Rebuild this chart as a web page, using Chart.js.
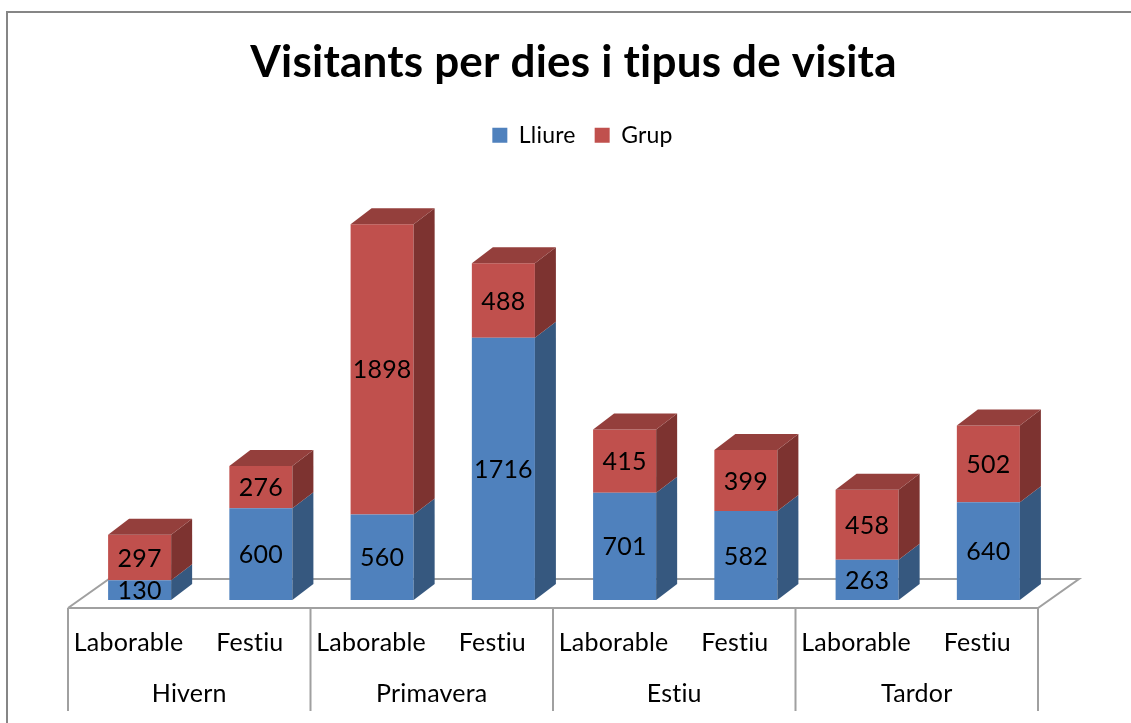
<!DOCTYPE html>
<html>
<head>
<meta charset="utf-8">
<script src="https://cdn.jsdelivr.net/npm/chart.js@4/dist/chart.umd.min.js"></script>
<style>
html,body{margin:0;padding:0;background:#fff;}
canvas{display:block;font-variant-ligatures:none;}
</style>
</head>
<body>
<canvas id="c" width="1131" height="723"></canvas>
<script>
const categories = ['Laborable','Festiu','Laborable','Festiu','Laborable','Festiu','Laborable','Festiu'];
const seasons = ['Hivern','Primavera','Estiu','Tardor'];
const lliure = [130, 600, 560, 1716, 701, 582, 263, 640];
const grup = [297, 276, 1898, 488, 415, 399, 458, 502];
const seriesNames = ['Lliure', 'Grup'];
const chartTitle = 'Visitants per dies i tipus de visita';

const FRONT = ['#4F81BD', '#C0504D'];
const SIDE = ['#36587F', '#7D3330'];
const TOP = ['#4673A8', '#943F3C'];
const DEPTH_X = 21, DEPTH_Y = 16;      // bar depth
const FLOOR_OFF_X = 11, FLOOR_OFF_Y = 8; // bar front relative to floor front
const FLOOR_DX = 41, FLOOR_DY = 29;     // floor depth
const LEGEND_SHIFT = 8;

Chart.defaults.font.family = 'Lato';

function noLigatures(ctx) {
  if ('letterSpacing' in ctx) ctx.letterSpacing = '0.2px';
  if ('fontVariantLigatures' in ctx) ctx.fontVariantLigatures = 'none';
}

const frame = {
  id: 'frame',
  afterLayout(chart) {
    if (chart.legend) {
      chart.legend.left += LEGEND_SHIFT;
      chart.legend.right += LEGEND_SHIFT;
    }
  },
  beforeDraw(chart) {
    const ctx = chart.ctx;
    ctx.save();
    ctx.fillStyle = '#fff';
    ctx.fillRect(0, 0, chart.width, chart.height);
    ctx.strokeStyle = '#868686';
    ctx.lineWidth = 2;
    ctx.beginPath();
    ctx.moveTo(7, chart.height + 5);
    ctx.lineTo(7, 12);
    ctx.lineTo(chart.width + 5, 12);
    ctx.stroke();
    ctx.restore();
    noLigatures(ctx);
  }
};

const floor = {
  id: 'floor',
  beforeDatasetsDraw(chart) {
    const ctx = chart.ctx;
    const a = chart.chartArea;
    const x2 = chart.scales.x2;
    const fl = a.left - FLOOR_OFF_X, fr = a.right - FLOOR_OFF_X, fb = a.bottom + FLOOR_OFF_Y;
    ctx.save();
    ctx.strokeStyle = '#A0A0A0';
    ctx.lineWidth = 2;
    ctx.beginPath();
    ctx.moveTo(fl, fb); ctx.lineTo(fr, fb);
    ctx.lineTo(fr + FLOOR_DX, fb - FLOOR_DY);
    ctx.lineTo(fl + FLOOR_DX, fb - FLOOR_DY);
    ctx.lineTo(fl, fb);
    ctx.stroke();
    // season dividers
    const n = seasons.length;
    const step = (x2.getPixelForValue(1) - x2.getPixelForValue(0));
    ctx.beginPath();
    for (let i = 0; i <= n; i++) {
      const xp = x2.getPixelForValue(0) - step / 2 + i * step - FLOOR_OFF_X;
      ctx.moveTo(xp, fb);
      ctx.lineTo(xp, 711);
    }
    ctx.stroke();
    ctx.restore();
  }
};

const bars3d = {
  id: 'bars3d',
  afterDatasetsDraw(chart) {
    const ctx = chart.ctx;
    const nd = chart.data.datasets.length;
    ctx.save();
    for (let d = 0; d < nd; d++) {
      const meta = chart.getDatasetMeta(d);
      meta.data.forEach((el) => {
        const p = el.getProps(['x', 'y', 'base', 'width'], true);
        const l = p.x - p.width / 2, r = p.x + p.width / 2;
        ctx.fillStyle = SIDE[d];
        ctx.beginPath();
        ctx.moveTo(r, p.y);
        ctx.lineTo(r + DEPTH_X, p.y - DEPTH_Y);
        ctx.lineTo(r + DEPTH_X, p.base - DEPTH_Y);
        ctx.lineTo(r, p.base);
        ctx.closePath();
        ctx.fill();
        if (d === nd - 1) {
          ctx.fillStyle = TOP[d];
          ctx.beginPath();
          ctx.moveTo(l, p.y);
          ctx.lineTo(l + DEPTH_X, p.y - DEPTH_Y);
          ctx.lineTo(r + DEPTH_X, p.y - DEPTH_Y);
          ctx.lineTo(r, p.y);
          ctx.closePath();
          ctx.fill();
        }
      });
    }
    // value labels
    ctx.fillStyle = '#000';
    ctx.font = '25px Lato';
    ctx.textAlign = 'center';
    ctx.textBaseline = 'middle';
    for (let d = 0; d < nd; d++) {
      const meta = chart.getDatasetMeta(d);
      const vals = chart.data.datasets[d].data;
      meta.data.forEach((el, i) => {
        const p = el.getProps(['x', 'y', 'base'], true);
        ctx.fillText(String(vals[i]), p.x, (p.y + p.base) / 2 + 1);
      });
    }
    ctx.restore();
  }
};

const hiddenGrid = { display: false, drawTicks: false };

new Chart(document.getElementById('c'), {
  type: 'bar',
  data: {
    labels: categories,
    datasets: [
      { label: seriesNames[0], data: lliure, backgroundColor: FRONT[0], borderWidth: 0, xAxisID: 'x', yAxisID: 'y' },
      { label: seriesNames[1], data: grup, backgroundColor: FRONT[1], borderWidth: 0, xAxisID: 'x', yAxisID: 'y' }
    ]
  },
  options: {
    responsive: false,
    devicePixelRatio: 1,
    animation: false,
    layout: { padding: { left: 16, right: 0, top: 0, bottom: 0 } },
    datasets: { bar: { categoryPercentage: 1, barPercentage: 0.52 } },
    plugins: {
      title: {
        display: true,
        text: chartTitle,
        color: '#000',
        font: { family: 'Lato', size: 44, weight: 'bold', lineHeight: 1.2 },
        padding: { top: 36, bottom: 16 }
      },
      legend: {
        display: true,
        position: 'top',
        labels: {
          color: '#000',
          font: { family: 'Lato', size: 23 },
          boxWidth: 15,
          boxHeight: 15,
          padding: 19
        }
      },
      tooltip: { enabled: false }
    },
    scales: {
      x: {
        type: 'category',
        stacked: true,
        position: 'bottom',
        weight: 0,
        offset: true,
        grid: hiddenGrid,
        border: { display: false },
        ticks: { color: '#000', font: { family: 'Lato', size: 25, lineHeight: 1.2 }, padding: 28, labelOffset: -FLOOR_OFF_X, maxRotation: 0, autoSkip: false },
        afterFit(s) { s.height = 60; }
      },
      x2: {
        type: 'category',
        labels: seasons,
        position: 'bottom',
        weight: 1,
        offset: true,
        grid: hiddenGrid,
        border: { display: false },
        ticks: { color: '#000', font: { family: 'Lato', size: 25, lineHeight: 1.2 }, padding: 19, labelOffset: -FLOOR_OFF_X, maxRotation: 0, autoSkip: false },
        afterFit(s) { s.height = 63; }
      },
      y: {
        stacked: true,
        min: 0,
        max: 2900,
        position: 'left',
        grid: hiddenGrid,
        border: { display: false },
        ticks: { display: false },
        afterFit(s) { s.width = 63; }
      },
      yR: {
        type: 'linear',
        position: 'right',
        grid: hiddenGrid,
        border: { display: false },
        ticks: { display: false },
        afterFit(s) { s.width = 82; }
      }
    }
  },
  plugins: [frame, floor, bars3d]
});
</script>
</body>
</html>
